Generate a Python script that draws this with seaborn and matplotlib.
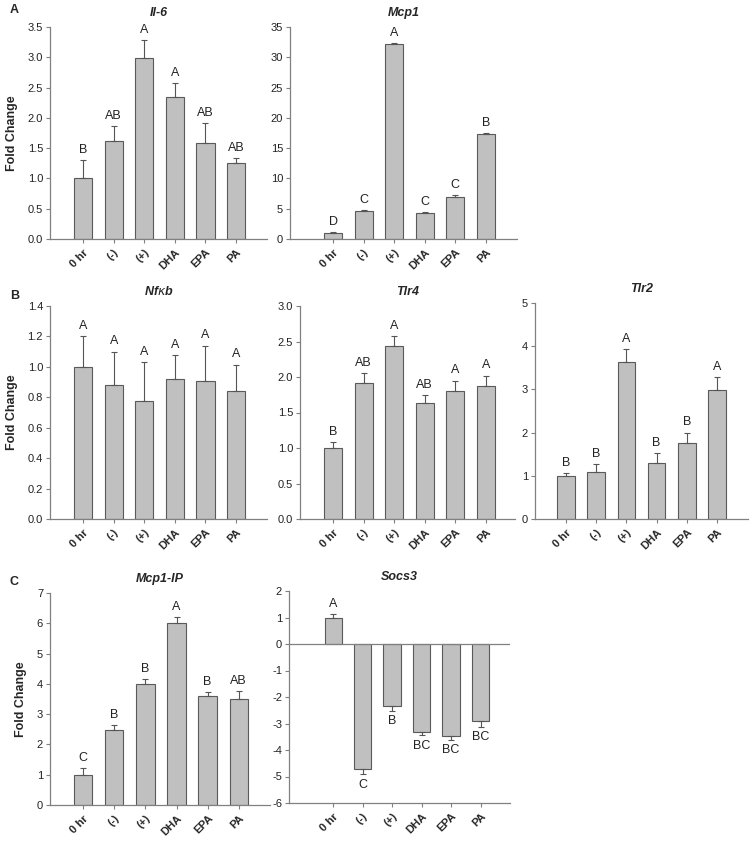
import numpy as np
import pandas as pd
import matplotlib
matplotlib.use("Agg")
import matplotlib.pyplot as plt
import seaborn as sns

# =====================================
# DATA
# =====================================

groups = ["0 hr", "(-)", "(+)", "DHA", "EPA", "PA"]

il6_mean = [1.0, 1.62, 2.98, 2.34, 1.58, 1.25]
il6_err = [0.30, 0.24, 0.30, 0.23, 0.34, 0.09]
il6_letters = ["B", "AB", "A", "A", "AB", "AB"]

mcp1_mean = [1.0, 4.6, 32.2, 4.3, 7.0, 17.4]
mcp1_err = [0.10, 0.15, 0.10, 0.15, 0.25, 0.15]
mcp1_letters = ["D", "C", "A", "C", "C", "B"]

nfkb_mean = [1.0, 0.88, 0.775, 0.92, 0.91, 0.84]
nfkb_err = [0.20, 0.22, 0.255, 0.16, 0.23, 0.175]
nfkb_letters = ["A", "A", "A", "A", "A", "A"]

tlr4_mean = [1.0, 1.92, 2.44, 1.64, 1.80, 1.88]
tlr4_err = [0.08, 0.14, 0.14, 0.11, 0.15, 0.14]
tlr4_letters = ["B", "AB", "A", "AB", "A", "A"]

tlr2_mean = [1.0, 1.09, 3.63, 1.29, 1.75, 2.99]
tlr2_err = [0.07, 0.19, 0.30, 0.23, 0.25, 0.30]
tlr2_letters = ["B", "B", "A", "B", "B", "A"]

mcp1ip_mean = [1.0, 2.48, 4.0, 6.02, 3.61, 3.49]
mcp1ip_err = [0.22, 0.17, 0.17, 0.18, 0.13, 0.28]
mcp1ip_letters = ["C", "B", "B", "A", "B", "AB"]

socs3_mean = [1.0, -4.72, -2.34, -3.32, -3.49, -2.92]
socs3_err = [0.13, 0.20, 0.20, 0.13, 0.12, 0.22]
socs3_letters = ["A", "C", "B", "BC", "BC", "BC"]

# =====================================
# STYLE
# =====================================

sns.set_style("white")
plt.rcParams["font.family"] = ["Liberation Sans", "DejaVu Sans"]

W, H = 751, 841
fig = plt.figure(figsize=(W / 100, H / 100), dpi=100)

bar_color = "#c0c0c0"
edge_color = "#5a5a5a"
axis_color = "#808080"


def add_panel(box, xlim, title, mean, err, letters, ylim, yticks, fmt, ylabel=False):
    # box in pixels: left, top, right, bottom
    left, top, right, bottom = box
    ax = fig.add_axes([left / W, 1 - bottom / H, (right - left) / W, (bottom - top) / H])

    df = pd.DataFrame({"group": groups, "value": mean})
    sns.barplot(
        data=df, x="group", y="value", ax=ax,
        color=bar_color, edgecolor=edge_color, linewidth=0.8,
        width=0.59, errorbar=None, saturation=1
    )

    x = np.arange(len(groups))
    mean = np.array(mean)
    err = np.array(err)
    up = np.where(mean >= 0, err, 0)
    down = np.where(mean < 0, err, 0)
    ax.errorbar(
        x, mean, yerr=[down, up], fmt="none",
        ecolor="#555555", elinewidth=0.8, capsize=2.3, capthick=0.8
    )

    for xi, m, e, lab in zip(x, mean, err, letters):
        if m >= 0:
            ax.annotate(lab, (xi, m + e), xytext=(0, 3), textcoords="offset points",
                        ha="center", va="bottom", fontsize=9, color="#222222")
        else:
            ax.annotate(lab, (xi, m - e), xytext=(0, -3), textcoords="offset points",
                        ha="center", va="top", fontsize=9, color="#222222")

    ax.set_xlim(*xlim)
    ax.set_ylim(*ylim)
    ax.set_yticks(yticks)
    ax.set_yticklabels([fmt.format(t) for t in yticks])

    ax.set_xlabel("")
    ax.set_ylabel("")
    ax.set_xticks(x)
    ax.set_xticklabels(groups, rotation=45, ha="right", rotation_mode="anchor",
                       fontweight="bold", fontsize=8)

    for side in ["top", "right"]:
        ax.spines[side].set_visible(False)
    for side in ["left", "bottom"]:
        ax.spines[side].set_color(axis_color)
        ax.spines[side].set_linewidth(0.9)

    ax.tick_params(axis="y", direction="out", length=3, width=0.8, color=axis_color,
                   labelsize=8, pad=2, left=True, labelcolor="#222222")
    ax.tick_params(axis="x", direction="out", length=3, width=0.8, color=axis_color,
                   pad=3, bottom=True)

    ax.set_title(title, fontsize=9, fontweight="bold", fontstyle="italic", pad=8)

    if ylabel:
        ax.set_ylabel("Fold Change", fontsize=9, fontweight="bold", labelpad=7)

    return ax


# =====================================
# ROW A
# =====================================

add_panel((50, 27, 267, 239), (-1.08, 6.01), "Il-6", il6_mean, il6_err, il6_letters,
          (0, 3.5), np.arange(0, 3.51, 0.5), "{:.1f}", ylabel=True)

add_panel((290, 27, 517, 239), (-1.41, 6.02), "Mcp1", mcp1_mean, mcp1_err, mcp1_letters,
          (0, 35), np.arange(0, 36, 5), "{:.0f}")

# =====================================
# ROW B
# =====================================

add_panel((50, 306, 267, 519), (-1.08, 6.01), r"Nf$\kappa$b", nfkb_mean, nfkb_err, nfkb_letters,
          (0, 1.4), np.arange(0, 1.41, 0.2), "{:.1f}", ylabel=True)

add_panel((300, 306, 515, 519), (-1.08, 5.95), "Tlr4", tlr4_mean, tlr4_err, tlr4_letters,
          (0, 3.0), np.arange(0, 3.01, 0.5), "{:.1f}")

add_panel((535, 303, 748, 519), (-1.03, 6.03), "Tlr2", tlr2_mean, tlr2_err, tlr2_letters,
          (0, 5), np.arange(0, 6, 1), "{:.0f}")

# =====================================
# ROW C
# =====================================

add_panel((50, 593, 270, 805), (-1.06, 6.0), "Mcp1-IP", mcp1ip_mean, mcp1ip_err, mcp1ip_letters,
          (0, 7), np.arange(0, 8, 1), "{:.0f}", ylabel=True)

ax = add_panel((289, 591, 510, 803), (-1.5, 6.0), "Socs3", socs3_mean, socs3_err, socs3_letters,
               (-6, 2), np.arange(-6, 3, 1), "{:.0f}")
ax.axhline(0, color=axis_color, linewidth=0.9)

# panel letters
for lab, ypix in [("A", 10), ("B", 296), ("C", 582)]:
    fig.text(10 / W, 1 - ypix / H, lab, fontsize=9, fontweight="bold", va="center", ha="left")

fig.savefig("out.png", dpi=100)
